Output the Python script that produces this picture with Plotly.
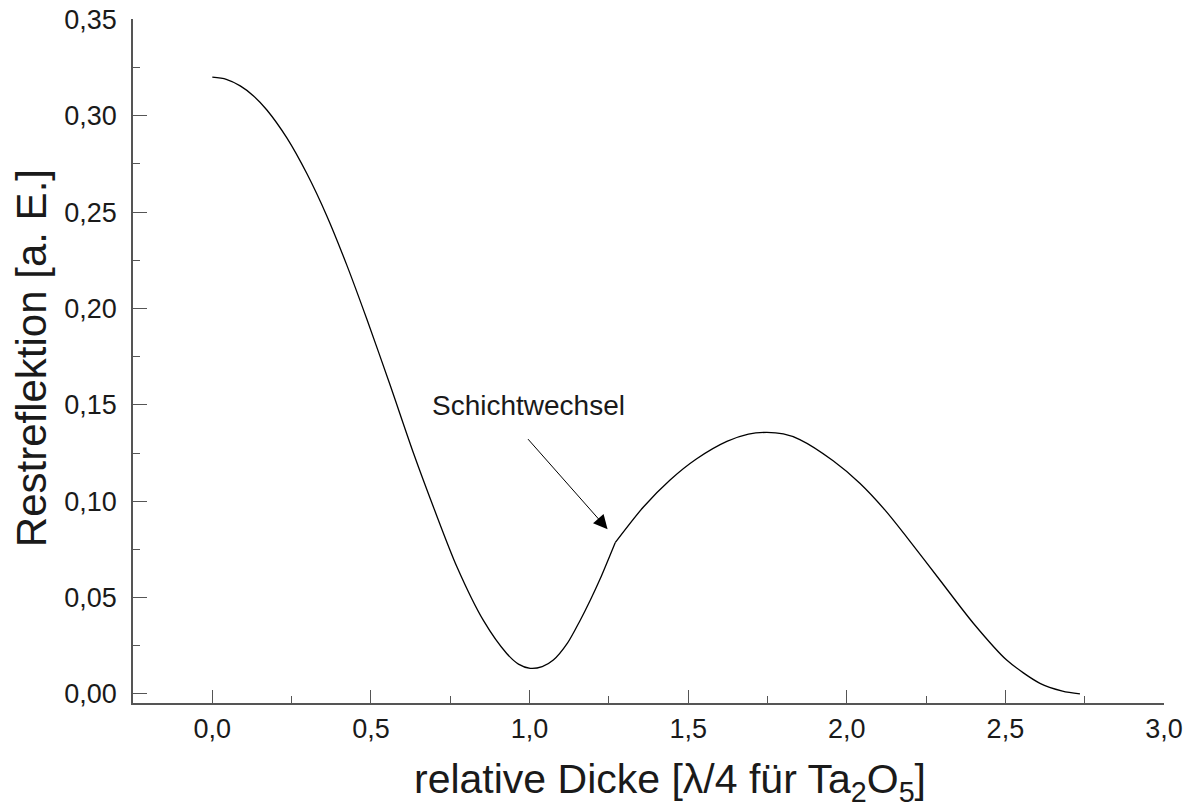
import plotly.graph_objects as go

# Segment 1: before the layer change (x in lambda/4 units of Ta2O5)
x_seg1 = [0.00, 0.044, 0.088, 0.130, 0.172, 0.235, 0.298, 0.361, 0.424, 0.487, 0.561, 0.634,
          0.697, 0.771, 0.855, 0.928, 0.965, 1.002, 1.040, 1.075, 1.120, 1.159, 1.191, 1.222, 1.270]
y_seg1 = [0.320, 0.3189, 0.3155, 0.3103, 0.303, 0.2885, 0.270, 0.248, 0.2225, 0.1945, 0.160, 0.125,
          0.097, 0.066, 0.038, 0.021, 0.0155, 0.0133, 0.0142, 0.0176, 0.0265, 0.038, 0.0485, 0.0595, 0.0785]

# Segment 2: after the layer change
x_seg2 = [1.270, 1.359, 1.443, 1.527, 1.622, 1.690, 1.748, 1.800, 1.852, 1.957, 2.042, 2.120,
          2.189, 2.294, 2.399, 2.504, 2.609, 2.680, 2.735]
y_seg2 = [0.0785, 0.097, 0.111, 0.122, 0.131, 0.1348, 0.1357, 0.1349, 0.132, 0.121, 0.1092, 0.0955,
          0.0814, 0.059, 0.0367, 0.0176, 0.0055, 0.0015, 0.000]

x_ticks = [0.0, 0.5, 1.0, 1.5, 2.0, 2.5, 3.0]
y_ticks = [0.00, 0.05, 0.10, 0.15, 0.20, 0.25, 0.30, 0.35]

annot_text = "Schichtwechsel"
annot_tip = (1.246, 0.0855)
annot_tail = (0.991, 0.133)

x_title = "relative Dicke [λ/4 für Ta<sub>2</sub>O<sub>5</sub>]"
y_title = "Restreflektion [a. E.]"

FONT = "Liberation Sans, Arial, Helvetica, sans-serif"
AX = "#555555"
TXT = "#1a1a1a"

fig = go.Figure()
for xs, ys in [(x_seg1, y_seg1), (x_seg2, y_seg2)]:
    fig.add_trace(go.Scatter(x=xs, y=ys, mode="lines",
                             line=dict(color="black", width=1.3, shape="spline", smoothing=0.8),
                             showlegend=False, hoverinfo="skip"))

fig.add_annotation(x=annot_tip[0], y=annot_tip[1], ax=annot_tail[0], ay=annot_tail[1],
                   xref="x", yref="y", axref="x", ayref="y",
                   text="", showarrow=True, arrowhead=2, arrowsize=2.8, arrowwidth=1,
                   arrowcolor="black")
fig.add_annotation(x=annot_tail[0] + 0.006, y=annot_tail[1] + 0.0078, xref="x", yref="y",
                   text=annot_text, showarrow=False, yanchor="bottom", xanchor="center",
                   font=dict(family=FONT, size=28, color=TXT))

# axis titles placed as paper annotations for precise positioning
fig.add_annotation(x=0.521, y=-0.116, xref="paper", yref="paper", text=x_title,
                   showarrow=False, xanchor="center", yanchor="middle",
                   font=dict(family=FONT, size=41, color=TXT))
fig.add_annotation(x=-0.099, y=0.504, xref="paper", yref="paper", text=y_title,
                   showarrow=False, xanchor="center", yanchor="middle", textangle=-90,
                   font=dict(family=FONT, size=42, color=TXT))

# page body has an 8px default margin, so the figure is sized/offset to compensate
fig.update_layout(
    width=1183, height=802,
    margin=dict(l=125, r=27, t=11, b=107),
    paper_bgcolor="white", plot_bgcolor="white",
    separators=", ",
    font=dict(family=FONT, color=TXT),
    showlegend=False,
)
fig.update_xaxes(
    range=[-0.25, 3.0], tickmode="array", tickvals=x_ticks, tickformat=".1f",
    automargin=False, ticklabeloverflow="allow",
    showgrid=False, zeroline=False, showline=True, linecolor=AX, linewidth=1.6,
    ticks="inside", ticklen=13, tickwidth=1.3, tickcolor=AX,
    minor=dict(ticks="inside", ticklen=7, tickwidth=1.3, tickcolor=AX, dtick=0.25, tick0=0, showgrid=False),
    tickfont=dict(size=27, family=FONT, color=TXT), ticklabelstandoff=1,
)
fig.update_yaxes(
    range=[-0.0047, 0.3502], tickmode="array", tickvals=y_ticks, tickformat=".2f",
    automargin=False, ticklabeloverflow="allow",
    showgrid=False, zeroline=False, showline=True, linecolor=AX, linewidth=1.6,
    ticks="inside", ticklen=14, tickwidth=1.3, tickcolor=AX,
    minor=dict(ticks="inside", ticklen=7, tickwidth=1.3, tickcolor=AX, dtick=0.025, tick0=0, showgrid=False),
    tickfont=dict(size=27, family=FONT, color=TXT), ticklabelstandoff=9,
)

fig.write_html("out.html")
